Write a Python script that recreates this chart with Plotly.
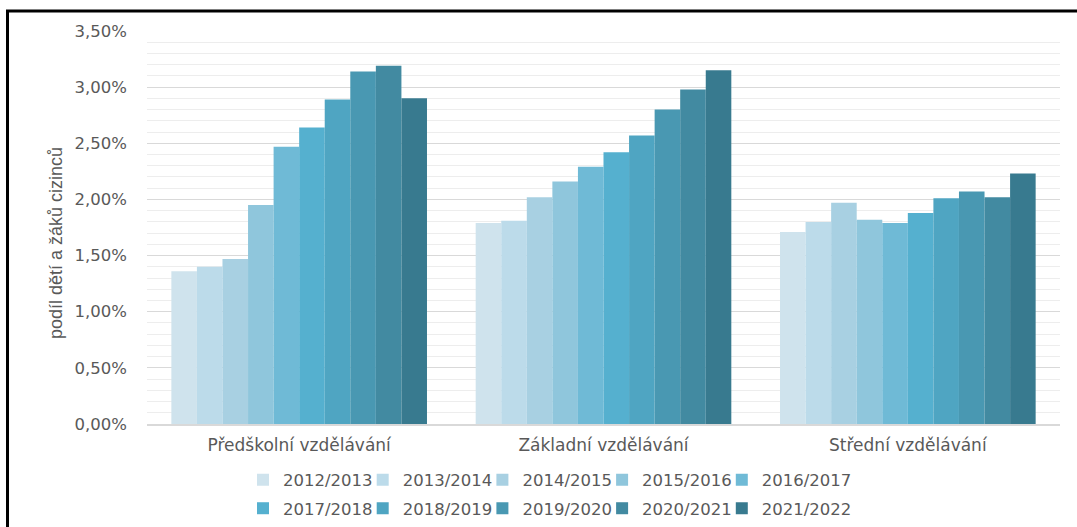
import plotly.graph_objects as go

categories = ["Předškolní vzdělávání", "Základní vzdělávání", "Střední vzdělávání"]
years = ["2012/2013", "2013/2014", "2014/2015", "2015/2016", "2016/2017",
         "2017/2018", "2018/2019", "2019/2020", "2020/2021", "2021/2022"]
# share in percent, per year: [předškolní, základní, střední]
values = {
    "2012/2013": [1.36, 1.79, 1.71],
    "2013/2014": [1.40, 1.81, 1.80],
    "2014/2015": [1.47, 2.02, 1.97],
    "2015/2016": [1.95, 2.16, 1.82],
    "2016/2017": [2.47, 2.29, 1.79],
    "2017/2018": [2.64, 2.42, 1.88],
    "2018/2019": [2.89, 2.57, 2.01],
    "2019/2020": [3.14, 2.80, 2.07],
    "2020/2021": [3.19, 2.98, 2.02],
    "2021/2022": [2.90, 3.15, 2.23],
}
colors = ["#cfe3ed", "#bcdbea", "#a8d0e2", "#8fc6dc", "#6fbad6",
          "#55b0cf", "#4fa5c2", "#4998b2", "#428aa1", "#387a8f"]

W, H = 1077, 527
L, R, T, B = 147, 17, 31, 103
pw = W - L - R
ph = H - T - B

gray = "#595959"
FONT = "DejaVu Sans, Open Sans, sans-serif"

fig = go.Figure()
legends = {}
for i, yr in enumerate(years):
    key = "legend" if i == 0 else f"legend{i + 1}"
    fig.add_trace(go.Bar(
        name=yr, x=categories, y=[v / 100 for v in values[yr]],
        marker=dict(color=colors[i], line=dict(width=0)),
        legend=key, showlegend=True,
    ))
    col, row = i % 5, i // 5
    sq_x = 257 + 119.7 * col          # pixel position of the legend square
    row_y = 480 if row == 0 else 508.5
    legends[key] = dict(
        orientation="h", xref="container", yref="container",
        x=(sq_x - 14) / W, xanchor="left",
        y=1 - row_y / H, yanchor="middle",
        font=dict(family=FONT, size=16.5, color=gray),
        itemwidth=30, bgcolor="rgba(0,0,0,0)", borderwidth=0,
    )

def px_x(p):
    return (p - L) / pw

def px_y(p):
    return (H - B - p) / ph

fig.update_layout(
    width=W, height=H,
    margin=dict(l=L, r=R, t=T, b=B, autoexpand=False),
    paper_bgcolor="white", plot_bgcolor="white",
    showlegend=True,
    barmode="group", bargap=0.16, bargroupgap=0,
    separators=",.",
    font=dict(family=FONT, color=gray, size=14),
    xaxis=dict(showline=True, linecolor="#d9d9d9", linewidth=1.5, showgrid=False,
               ticks="", automargin=False, ticklabelstandoff=5,
               tickfont=dict(family=FONT, size=17, color=gray)),
    yaxis=dict(range=[0, 0.035], dtick=0.005, tickformat=".2%",
               showgrid=True, gridcolor="#d9d9d9", gridwidth=1.3,
               zeroline=False, ticklabelstandoff=19, automargin=False,
               tickfont=dict(family=FONT, size=16.5, color=gray),
               minor=dict(dtick=0.001, showgrid=True, gridcolor="#ededed", gridwidth=1)),
    annotations=[dict(text="podíl dětí a žáků cizinců", textangle=-90,
                      xref="paper", yref="paper", x=px_x(56), y=px_y(243),
                      xanchor="center", yanchor="middle", showarrow=False,
                      font=dict(family="Liberation Sans Narrow, Liberation Sans, sans-serif",
                                size=18, color=gray))],
    shapes=[
        dict(type="line", xref="paper", yref="paper", x0=px_x(7.5), x1=px_x(7.5),
             y0=px_y(10), y1=px_y(H + 5), line=dict(color="black", width=3)),
        dict(type="line", xref="paper", yref="paper", x0=px_x(6), x1=px_x(W + 5),
             y0=px_y(11), y1=px_y(11), line=dict(color="black", width=3)),
    ],
    **legends,
)

fig.write_html("out.html", config={"displayModeBar": False},
               post_script="document.body.style.margin='0';")
